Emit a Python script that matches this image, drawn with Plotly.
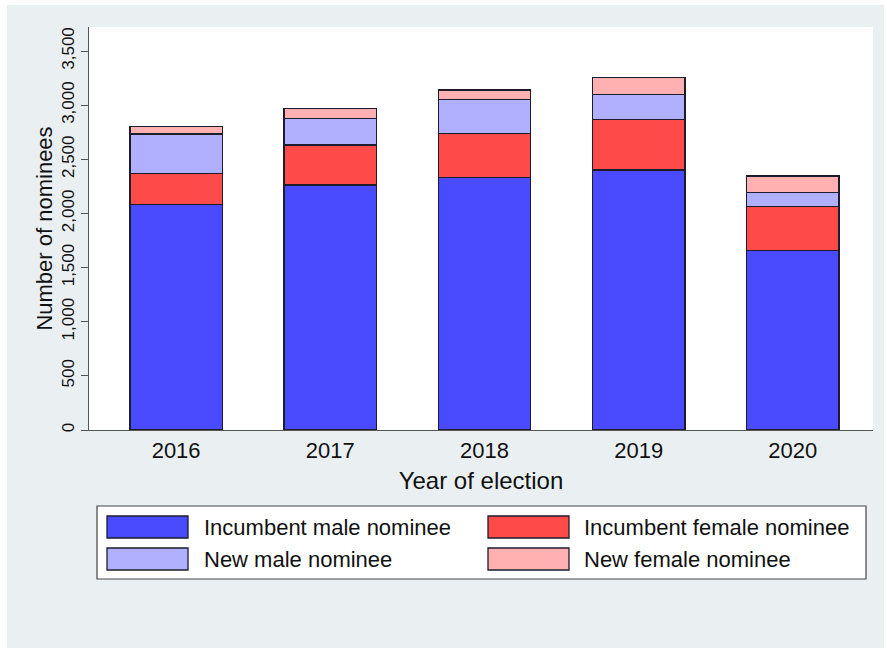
import plotly.graph_objects as go

# ---- data ----
years = ["2016", "2017", "2018", "2019", "2020"]
series_names = ["Incumbent male nominee", "Incumbent female nominee",
                "New male nominee", "New female nominee"]
incumbent_male = [2084, 2262, 2334, 2401, 1656]
incumbent_female = [286, 370, 406, 468, 406]
new_male = [363, 246, 314, 227, 129]
new_female = [68, 89, 86, 157, 155]
y_ticks = [0, 500, 1000, 1500, 2000, 2500, 3000, 3500]
y_tick_labels = ["0", "500", "1,000", "1,500", "2,000", "2,500", "3,000", "3,500"]

series_values = [incumbent_male, incumbent_female, new_male, new_female]
colors = ["#4a4aff", "#ff4a4a", "#b0b0ff", "#ffb0b0"]
stack_order = [0, 1, 2, 3]

W, H = 887, 648
L, R, T, B = 89, 873, 27, 430  # plot area in pixels

FONT = "Liberation Sans, Arial, sans-serif"

fig = go.Figure()
xpos = list(range(len(years)))
for i in stack_order:
    fig.add_trace(go.Bar(
        x=xpos, y=series_values[i], name=series_names[i],
        marker=dict(color=colors[i], line=dict(color="#1c1c2c", width=1.3)),
        width=0.6, showlegend=False,
    ))

def px_x(p):
    return (p - L) / (R - L)

def px_y(p):
    return (B - p) / (B - T)

shapes = []
annotations = []
# outer white edges of the image
shapes.append(dict(type="rect", xref="paper", yref="paper", x0=px_x(-5), x1=px_x(7),
                   y0=px_y(-5), y1=px_y(H + 5), fillcolor="white", line=dict(width=0), layer="below"))
shapes.append(dict(type="rect", xref="paper", yref="paper", x0=px_x(-5), x1=px_x(W + 5),
                   y0=px_y(-5), y1=px_y(5), fillcolor="white", line=dict(width=0), layer="below"))
shapes.append(dict(type="rect", xref="paper", yref="paper", x0=px_x(884), x1=px_x(W + 5),
                   y0=px_y(-5), y1=px_y(H + 5), fillcolor="white", line=dict(width=0), layer="below"))

# legend box
shapes.append(dict(type="rect", xref="paper", yref="paper", x0=px_x(97), x1=px_x(866),
                   y0=px_y(579), y1=px_y(506), fillcolor="white",
                   line=dict(color="#444444", width=1.2)))
legend_cells = [  # (series index, swatch x0, swatch x1, text x, row top, row bottom)
    (0, 107, 188, 202, 516, 538),
    (1, 488, 569, 582, 516, 538),
    (2, 107, 188, 202, 548, 570),
    (3, 488, 569, 582, 548, 570),
]
for idx, sx0, sx1, tx, r0, r1 in legend_cells:
    shapes.append(dict(type="rect", xref="paper", yref="paper", x0=px_x(sx0), x1=px_x(sx1),
                       y0=px_y(r1), y1=px_y(r0), fillcolor=colors[idx],
                       line=dict(color="#1c1c2c", width=1.3)))
    annotations.append(dict(xref="paper", yref="paper", x=px_x(tx), y=px_y((r0 + r1) / 2),
                            text=series_names[idx], showarrow=False, xanchor="left",
                            yanchor="middle", font=dict(family=FONT, size=22, color="#111111")))

fig.update_layout(
    width=W, height=H,
    margin=dict(l=L, r=W - R, t=T, b=H - B, pad=0),
    paper_bgcolor="#eaf0f2",
    plot_bgcolor="white",
    barmode="stack",
    bargap=0.4,
    font=dict(family=FONT, color="#111111"),
    shapes=shapes,
    annotations=annotations,
    showlegend=False,
)
fig.update_xaxes(
    tickvals=xpos, ticktext=years, range=[-0.565, 4.52],
    showline=True, linecolor="#555555", linewidth=1.3, ticks="",
    showgrid=False, zeroline=False,
    tickfont=dict(family=FONT, size=22, color="#111111"),
    title=dict(text="Year of election", font=dict(family=FONT, size=24, color="#111111"), standoff=10),
)
fig.update_yaxes(
    range=[0, 3500 * (B - T) / (B - 51)],
    tickvals=y_ticks, ticktext=y_tick_labels, tickangle=-90,
    showline=True, linecolor="#555555", linewidth=1.3,
    ticks="outside", ticklen=7, tickcolor="#555555", tickwidth=1.3,
    showgrid=False, zeroline=False,
    tickfont=dict(family=FONT, size=17, color="#111111"),
    title=dict(text="Number of nominees", font=dict(family=FONT, size=22, color="#111111"), standoff=0),
)

fig.write_html("out.html", post_script="document.body.style.margin='0';",
               config={"displayModeBar": False})
